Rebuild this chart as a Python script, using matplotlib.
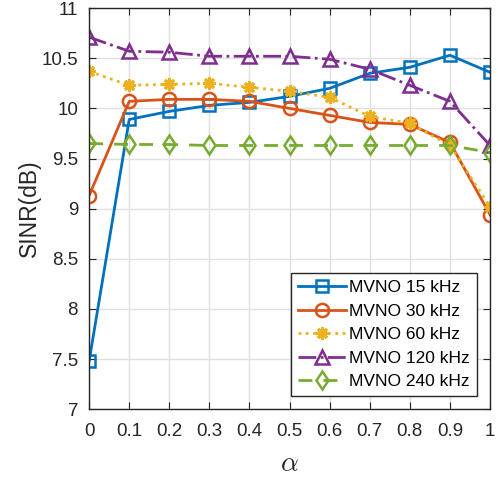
import numpy as np
import matplotlib
matplotlib.use("Agg")
import matplotlib.pyplot as plt

plt.rcParams['font.family'] = ['Liberation Sans', 'DejaVu Sans']
plt.rcParams['mathtext.fontset'] = 'cm'

alpha = [0, 0.1, 0.2, 0.3, 0.4, 0.5, 0.6, 0.7, 0.8, 0.9, 1]
sinr_15 = [7.48, 9.89, 9.97, 10.03, 10.06, 10.12, 10.20, 10.35, 10.41, 10.53, 10.36]
sinr_30 = [9.13, 10.07, 10.09, 10.09, 10.07, 10.00, 9.93, 9.86, 9.84, 9.66, 8.94]
sinr_60 = [10.37, 10.23, 10.24, 10.25, 10.21, 10.17, 10.11, 9.92, 9.85, 9.63, 9.02]
sinr_120 = [10.71, 10.57, 10.56, 10.52, 10.52, 10.52, 10.49, 10.39, 10.23, 10.07, 9.63]
sinr_240 = [9.65, 9.64, 9.64, 9.63, 9.63, 9.63, 9.63, 9.63, 9.63, 9.63, 9.56]
labels = ["MVNO 15 kHz", "MVNO 30 kHz", "MVNO 60 kHz", "MVNO 120 kHz", "MVNO 240 kHz"]

colors = [(0, 0.447, 0.741), (0.85, 0.325, 0.098), (0.929, 0.694, 0.125),
          (0.494, 0.184, 0.556), (0.466, 0.674, 0.188)]
dark = (0.15, 0.15, 0.15)

fig = plt.figure(figsize=(4.98, 4.78), dpi=100)
ax = fig.add_axes([0.179, 0.144, 0.805, 0.839])

ax.plot(alpha, sinr_15, '-', color=colors[0], lw=2, marker='s', ms=8, mfc='none', mew=1.8, label=labels[0])
ax.plot(alpha, sinr_30, '-', color=colors[1], lw=2, marker='o', ms=9.5, mfc='none', mew=1.8, label=labels[1])
ax.plot(alpha, sinr_60, ':', color=colors[2], lw=2, marker=(8, 2, 0), ms=9, mew=2, label=labels[2])
ax.plot(alpha, sinr_120, '-.', color=colors[3], lw=2, marker='^', ms=9.5, mfc='none', mew=1.8, label=labels[3])
ax.plot(alpha, sinr_240, '--', color=colors[4], lw=2, marker='d', ms=9.5, mfc='none', mew=1.8, label=labels[4],
        dashes=(5, 4))

ax.set_xlim(0, 1)
ax.set_ylim(7, 11)
ax.set_xticks(alpha)
ax.set_xticklabels(["0", "0.1", "0.2", "0.3", "0.4", "0.5", "0.6", "0.7", "0.8", "0.9", "1"])
ax.set_yticks(np.arange(7, 11.01, 0.5))
ax.set_yticklabels(["7", "7.5", "8", "8.5", "9", "9.5", "10", "10.5", "11"])
ax.tick_params(direction='in', top=True, right=True, labelsize=13.5, colors=dark, length=5)
ax.tick_params(axis='x', pad=10)
ax.tick_params(axis='y', pad=8)
ax.grid(True, color=(0.88, 0.88, 0.88), lw=1)
ax.set_axisbelow(True)
for s in ax.spines.values():
    s.set_color(dark)
    s.set_linewidth(1)

ax.set_xlabel(r'$\alpha$', fontsize=20, color=dark, labelpad=8)
ax.set_ylabel('SINR(dB)', fontsize=16.5, color=dark, labelpad=0)

leg = ax.legend(loc='lower right', fontsize=12.5, fancybox=False, edgecolor=dark,
                framealpha=1, borderaxespad=0.75, handlelength=2.75, handletextpad=0.2,
                labelspacing=0.48, borderpad=0.4)
leg.get_frame().set_linewidth(1)

plt.savefig("out.png", dpi=100)
